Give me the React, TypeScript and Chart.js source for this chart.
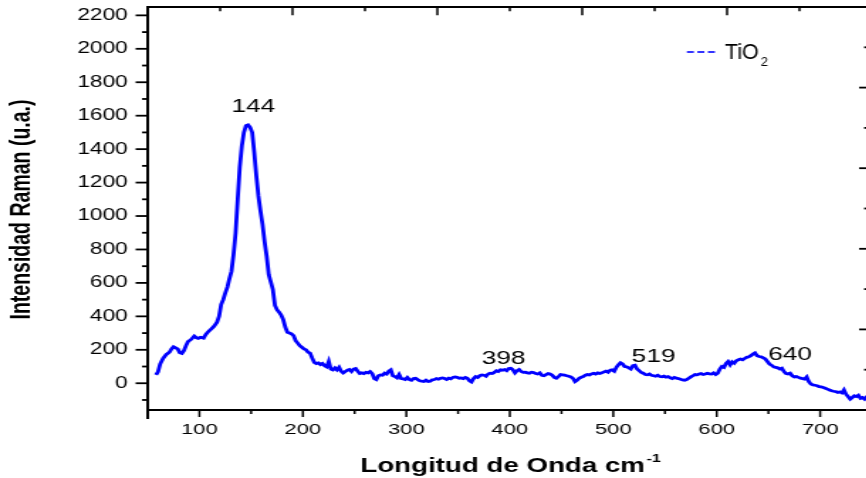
import React, { useEffect, useRef } from "react";
import { Chart, registerables } from "chart.js";

Chart.register(...registerables);

// The reference picture is horizontally stretched; we draw at a logical width and stretch it.
const STRETCH = 1.42;
const CANVAS_W = 620;
const CANVAS_H = 478;

const ramanShift = [
  58, 60, 62, 65, 68, 71, 73, 75, 77, 79, 81, 83, 85, 87, 89, 92, 95, 97, 99, 101,
  104, 106, 108, 111, 114, 117, 119, 121, 123, 125, 127, 129, 131, 133, 135, 137, 139, 141, 143, 145,
  147, 149, 151, 153, 155, 157, 159, 161, 163, 165, 167, 169, 171, 173, 175, 177, 179, 181, 183, 185,
  187, 189, 191, 193, 195, 197, 199, 201, 203, 205, 207, 209, 211, 213, 215, 217, 219, 221, 223, 225,
  227, 229, 231, 233, 235, 237, 239, 241, 243, 245, 247, 249, 251, 253, 255, 257, 259, 261, 263, 265,
  267, 269, 271, 273, 275, 277, 279, 281, 283, 285, 287, 289, 291, 293, 295, 297, 299, 301, 303, 305,
  307, 309, 311, 313, 315, 317, 319, 321, 323, 325, 327, 329, 331, 333, 335, 337, 339, 341, 343, 345,
  347, 349, 351, 353, 355, 357, 359, 361, 363, 365, 367, 369, 371, 373, 375, 377, 379, 381, 383, 385,
  387, 389, 391, 393, 395, 397, 399, 401, 403, 405, 407, 409, 411, 413, 415, 417, 419, 421, 423, 425,
  427, 429, 431, 433, 435, 437, 439, 441, 443, 445, 447, 449, 451, 453, 455, 457, 459, 461, 463, 465,
  467, 469, 471, 473, 475, 477, 479, 481, 483, 485, 487, 489, 491, 493, 495, 497, 499, 501, 503, 505,
  507, 509, 511, 513, 515, 517, 519, 521, 523, 525, 527, 529, 531, 533, 535, 537, 539, 541, 543, 545,
  547, 549, 551, 553, 555, 557, 559, 561, 563, 565, 567, 569, 571, 573, 575, 577, 579, 581, 583, 585,
  587, 589, 591, 593, 595, 597, 599, 601, 603, 605, 607, 609, 611, 613, 615, 617, 619, 621, 623, 625,
  627, 629, 631, 633, 635, 637, 639, 641, 643, 645, 647, 649, 651, 653, 655, 657, 659, 661, 663, 665,
  667, 669, 671, 673, 675, 677, 679, 681, 683, 685, 687, 689, 691, 693, 695, 697, 699, 701, 703, 705,
  707, 709, 711, 713, 715, 717, 719, 721, 723, 725, 727, 729, 731, 733, 735, 737, 739, 741, 743, 745,
  747, 749,
];

const intensity = [
  50, 68, 115, 150, 172, 185, 205, 218, 212, 205, 182, 178, 195, 225, 250, 262, 282, 272, 268, 275,
  270, 290, 305, 322, 340, 365, 400, 470, 500, 540, 575, 625, 670, 770, 900, 1100, 1290, 1420, 1500, 1540,
  1545, 1530, 1500, 1380, 1240, 1120, 1030, 950, 845, 760, 650, 605, 560, 465, 440, 425, 408, 380, 335, 305,
  300, 295, 285, 255, 240, 225, 215, 205, 200, 185, 180, 150, 125, 118, 122, 112, 118, 105, 98, 130,
  85, 80, 92, 80, 95, 72, 62, 70, 78, 82, 70, 85, 88, 72, 58, 62, 58, 65, 62, 70,
  58, 28, 22, 45, 50, 48, 60, 55, 72, 80, 45, 40, 32, 52, 28, 26, 22, 35, 22, 18,
  28, 30, 22, 15, 12, 10, 18, 10, 12, 20, 22, 28, 24, 30, 32, 28, 22, 30, 26, 35,
  38, 35, 30, 32, 28, 35, 30, 15, 8, 28, 40, 35, 45, 50, 48, 42, 55, 60, 58, 65,
  75, 70, 80, 78, 82, 75, 88, 90, 80, 62, 75, 82, 70, 65, 66, 62, 60, 66, 64, 58,
  55, 62, 48, 45, 52, 58, 55, 48, 35, 30, 40, 52, 50, 48, 45, 42, 38, 30, 10, 18,
  30, 36, 40, 48, 52, 50, 56, 60, 55, 62, 58, 62, 68, 72, 66, 78, 80, 72, 95, 110,
  122, 115, 100, 98, 92, 85, 105, 108, 85, 75, 65, 60, 52, 50, 55, 48, 45, 42, 48, 40,
  38, 42, 36, 40, 32, 28, 35, 30, 28, 24, 20, 18, 22, 30, 38, 45, 52, 50, 55, 58,
  52, 55, 60, 56, 55, 62, 52, 60, 85, 100, 95, 118, 130, 110, 128, 120, 135, 140, 145, 140,
  148, 155, 158, 165, 175, 182, 165, 160, 158, 152, 145, 130, 115, 108, 98, 95, 92, 85, 90, 70,
  58, 55, 60, 45, 38, 40, 35, 30, 28, 25, 38, 10, -5, -10, -12, -15, -20, -22, -25, -30,
  -35, -40, -45, -48, -50, -55, -52, -58, -40, -65, -80, -95, -85, -75, -80, -72, -90, -85, -95, -82,
  -90, -88,
];

const xMajorTicks = [100, 200, 300, 400, 500, 600, 700];
const xMinorTicks = [50, 150, 250, 350, 450, 550, 650, 750];
const yMajorTicks = [0, 200, 400, 600, 800, 1000, 1200, 1400, 1600, 1800, 2000, 2200];
const yMinorTicks = [-100, 100, 300, 500, 700, 900, 1100, 1300, 1500, 1700, 1900, 2100];

const peakLabels = ["144", "398", "519", "640"];
const peakLabelX = [152, 394, 539, 671];
const peakLabelY = [1654, 147, 160, 172];

const seriesMain = "TiO";
const seriesSub = "2";
const xTitle = "Longitud de Onda cm";
const xTitleSup = "-1";
const yTitle = "Intensidad Raman (u.a.)";

const X_MIN = 50;
const X_MAX = 750;
const Y_MIN = -160;
const Y_MAX = 2250;

const LINE_COLOR = "#0000ff";
const FONT = '"Liberation Sans", Arial, sans-serif';

const decorPlugin = {
  id: "decor",
  afterDraw(chart: any) {
    const { ctx, chartArea: ca, scales } = chart;
    const xs = scales.x;
    const ys = scales.y;
    const seg = (x1: number, y1: number, x2: number, y2: number) => {
      ctx.beginPath();
      ctx.moveTo(x1, y1);
      ctx.lineTo(x2, y2);
      ctx.stroke();
    };
    ctx.save();
    ctx.strokeStyle = "#000";
    ctx.lineCap = "butt";

    // frame
    ctx.lineWidth = 2;
    ctx.beginPath();
    ctx.moveTo(ca.left, ca.bottom + 9);
    ctx.lineTo(ca.left, ca.top);
    ctx.lineTo(ca.right, ca.top);
    ctx.lineTo(ca.right, ca.bottom);
    ctx.stroke();
    ctx.beginPath();
    ctx.moveTo(ca.left - 1, ca.bottom);
    ctx.lineTo(ca.right, ca.bottom);
    ctx.stroke();

    // left ticks (outward)
    ctx.lineWidth = 1.8;
    yMajorTicks.forEach((v) => {
      const p = ys.getPixelForValue(v);
      seg(ca.left - 8.5, p, ca.left, p);
    });
    yMinorTicks.forEach((v) => {
      const p = ys.getPixelForValue(v);
      seg(ca.left - 4, p, ca.left, p);
    });
    // bottom ticks (outward)
    ctx.lineWidth = 1.5;
    xMajorTicks.forEach((v) => {
      const p = xs.getPixelForValue(v);
      seg(p, ca.bottom, p, ca.bottom + 7);
    });
    xMinorTicks.forEach((v) => {
      const p = xs.getPixelForValue(v);
      seg(p, ca.bottom, p, ca.bottom + 4);
    });
    // top ticks (inward)
    for (let i = 1; i < 10; i++) {
      const p = ca.left + (ca.width * i) / 10;
      seg(p, ca.top, p, ca.top + (i % 2 === 0 ? 8.3 : 4.3));
    }
    // right ticks (inward)
    ctx.lineWidth = 1.8;
    for (let i = 1; i < 10; i++) {
      const p = ca.top + (ca.height * i) / 10;
      seg(ca.right - (i % 2 === 0 ? 9 : 5.5), p, ca.right, p);
    }

    ctx.fillStyle = "#000";
    // peak labels
    ctx.font = `18.5px ${FONT}`;
    ctx.textAlign = "center";
    ctx.textBaseline = "middle";
    peakLabels.forEach((t, i) => {
      ctx.fillText(t, xs.getPixelForValue(peakLabelX[i]), ys.getPixelForValue(peakLabelY[i]));
    });

    // x title with superscript
    ctx.textBaseline = "alphabetic";
    ctx.font = `bold 19.5px ${FONT}`;
    const wMain = ctx.measureText(xTitle).width;
    const cx = (ca.left + ca.right) / 2 - 5;
    ctx.textAlign = "left";
    ctx.fillText(xTitle, cx - wMain / 2, ca.bottom + 62);
    ctx.font = `bold 11.5px ${FONT}`;
    ctx.fillText(xTitleSup, cx + wMain / 2 + 1, ca.bottom + 52);

    // y title rotated
    ctx.save();
    ctx.translate(21, (ca.top + ca.bottom) / 2 + 1);
    ctx.rotate(-Math.PI / 2);
    ctx.font = `bold 19.5px ${FONT}`;
    ctx.textAlign = "center";
    ctx.fillText(yTitle, 0, 0);
    ctx.restore();

    // legend (drawn without the horizontal stretch)
    ctx.save();
    ctx.scale(1 / STRETCH, 1);
    const lx = ca.right * STRETCH - 185;
    const ly = ca.top + 45;
    ctx.strokeStyle = LINE_COLOR;
    ctx.lineWidth = 1.6;
    for (let k = 0; k < 3; k++) {
      seg(lx + k * 10.5, ly, lx + k * 10.5 + 7, ly);
    }
    ctx.fillStyle = "#000";
    ctx.font = `21.5px ${FONT}`;
    ctx.textAlign = "left";
    ctx.textBaseline = "alphabetic";
    ctx.fillText(seriesMain, lx + 38, ly + 6.5);
    const wT = ctx.measureText(seriesMain).width;
    ctx.font = `13px ${FONT}`;
    ctx.fillText(seriesSub, lx + 38 + wT + 2, ly + 13.5);
    ctx.restore();

    ctx.restore();
  },
};

export default function App() {
  const ref = useRef<HTMLCanvasElement | null>(null);

  useEffect(() => {
    if (!ref.current) return;
    const points = ramanShift.map((x, i) => ({ x, y: intensity[i] }));
    const chart = new Chart(ref.current, {
      type: "line",
      data: {
        datasets: [
          {
            label: seriesMain + seriesSub,
            data: points,
            borderColor: LINE_COLOR,
            borderWidth: 2.8,
            pointRadius: 0,
            tension: 0,
            fill: false,
          },
        ],
      },
      options: {
        responsive: false,
        animation: false,
        devicePixelRatio: 1,
        layout: { padding: { top: 7, right: 6, left: 0, bottom: 0 } },
        plugins: { legend: { display: false }, tooltip: { enabled: false } },
        scales: {
          x: {
            type: "linear",
            min: X_MIN,
            max: X_MAX,
            grid: { display: false, drawTicks: false },
            border: { display: false },
            afterBuildTicks: (s: any) => {
              s.ticks = xMajorTicks.map((v) => ({ value: v }));
            },
            afterFit: (s: any) => {
              s.height = 68;
              s.paddingLeft = 0;
              s.paddingRight = 0;
            },
            ticks: {
              autoSkip: false,
              maxRotation: 0,
              padding: 10,
              color: "#000",
              font: { family: FONT, size: 15.5 },
              callback: (v: any) => String(v),
            },
          },
          y: {
            type: "linear",
            min: Y_MIN,
            max: Y_MAX,
            grid: { display: false, drawTicks: false },
            border: { display: false },
            afterBuildTicks: (s: any) => {
              s.ticks = yMajorTicks.map((v) => ({ value: v }));
            },
            afterFit: (s: any) => {
              s.width = 104;
              s.paddingTop = 0;
              s.paddingBottom = 0;
            },
            ticks: {
              autoSkip: false,
              padding: 14,
              color: "#000",
              font: { family: FONT, size: 16 },
              callback: (v: any) => String(v),
            },
          },
        },
      },
      plugins: [decorPlugin],
    });
    return () => chart.destroy();
  }, []);

  return (
    <div
      style={{
        position: "fixed",
        left: 0,
        top: 0,
        width: 866,
        height: 478,
        overflow: "hidden",
        background: "#fff",
      }}
    >
      <canvas
        ref={ref}
        width={CANVAS_W}
        height={CANVAS_H}
        style={{
          display: "block",
          transform: `scaleX(${STRETCH})`,
          transformOrigin: "0 0",
        }}
      />
    </div>
  );
}
